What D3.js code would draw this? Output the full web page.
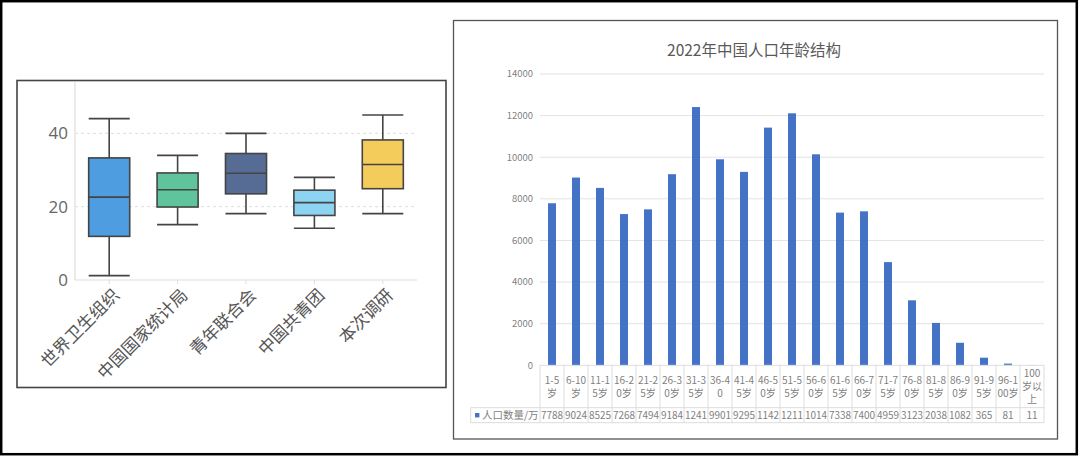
<!DOCTYPE html>
<html>
<head>
<meta charset="utf-8">
<script src="https://cdn.jsdelivr.net/npm/d3@7/dist/d3.min.js"></script>
<style>
  html, body { margin: 0; padding: 0; background: #fff; }
  svg { display: block; }
</style>
</head>
<body>
<svg id="chart" width="1080" height="457"></svg>
<script>
// box plot data (left panel)
const sources = ["世界卫生组织", "中国国家统计局", "青年联合会", "中国共青团", "本次调研"];
const boxMin = [1.2, 15.1, 18.1, 14.1, 18.1];
const boxQ1 = [11.9, 19.9, 23.5, 17.6, 24.9];
const boxMedian = [22.6, 24.6, 29.1, 21.1, 31.5];
const boxQ3 = [33.3, 29.2, 34.5, 24.5, 38.2];
const boxMax = [44.0, 34.0, 40.0, 28.0, 45.0];
const boxColors = ["#4d9de0", "#5fc49c", "#566c94", "#8dd4f2", "#f4cc5c"];
const boxTicks = [0, 20, 40];

// population data (right panel)
const ageLabels = ["1-5\n岁", "6-10\n岁", "11-1\n5岁", "16-2\n0岁", "21-2\n5岁", "26-3\n0岁", "31-3\n5岁",
  "36-4\n0", "41-4\n5岁", "46-5\n0岁", "51-5\n5岁", "56-6\n0岁", "61-6\n5岁", "66-7\n0岁", "71-7\n5岁",
  "76-8\n0岁", "81-8\n5岁", "86-9\n0岁", "91-9\n5岁", "96-1\n00岁", "100\n岁以\n上"];
const population = [7788, 9024, 8525, 7268, 7494, 9184, 12411, 9901, 9295, 11424, 12111, 10140,
  7338, 7400, 4959, 3123, 2038, 1082, 365, 81, 11];
const popTicks = [0, 2000, 4000, 6000, 8000, 10000, 12000, 14000];
const popTitle = "2022年中国人口年龄结构";
const seriesName = "人口数量/万";

const svg = d3.select("#chart");
const cjk = "'Noto Sans CJK SC', 'Open Sans', sans-serif";

// outer frame
svg.append("rect").attr("x", 1.2).attr("y", 1.2).attr("width", 1075.6).attr("height", 1453 - 1000)
  .attr("fill", "#fff").attr("stroke", "#000").attr("stroke-width", 2.5);

// ---------- left panel: box plot ----------
svg.append("rect").attr("x", 17).attr("y", 80.5).attr("width", 429).attr("height", 307)
  .attr("fill", "#fff").attr("stroke", "#444").attr("stroke-width", 1.6);

const bx = d3.scaleBand().domain(sources).range([75, 417]);
const by = d3.scaleLinear().domain([0, 54]).range([280, 82]);
const bw = bx.bandwidth() * 0.6;

const left = svg.append("g");

// grid
left.selectAll(".grid").data(boxTicks.filter(d => d > 0)).join("line")
  .attr("x1", 75).attr("x2", 417).attr("y1", d => by(d)).attr("y2", d => by(d))
  .attr("stroke", "#ddd").attr("stroke-dasharray", "3,3");

// axes lines
left.append("line").attr("x1", 75).attr("x2", 75).attr("y1", by(54)).attr("y2", by(0))
  .attr("stroke", "#ddd").attr("stroke-width", 1.2);
left.append("line").attr("x1", 75).attr("x2", 417).attr("y1", by(0)).attr("y2", by(0))
  .attr("stroke", "#ddd").attr("stroke-width", 1.2);

left.selectAll(".ytick").data(boxTicks).join("text")
  .attr("x", 68).attr("y", d => by(d)).attr("dy", "0.35em")
  .attr("text-anchor", "end").attr("font-family", "'Open Sans', sans-serif")
  .attr("font-size", 17).attr("fill", "#666").text(d => d);

left.selectAll(".xtick").data(sources).join("line")
  .attr("x1", d => bx(d) + bx.bandwidth() / 2).attr("x2", d => bx(d) + bx.bandwidth() / 2)
  .attr("y1", by(0)).attr("y2", by(0) + 4).attr("stroke", "#ddd");

left.selectAll(".xlab").data(sources).join("text")
  .attr("transform", d => `translate(${bx(d) + bx.bandwidth() / 2 + 7},${by(0) + 12}) rotate(-45)`)
  .attr("text-anchor", "end").attr("dy", "0.35em")
  .attr("font-family", cjk).attr("font-size", 17).attr("fill", "#555").text(d => d);

const boxes = left.selectAll(".box").data(sources).join("g")
  .attr("transform", d => `translate(${bx(d) + bx.bandwidth() / 2},0)`);
boxes.append("line").attr("y1", (d, i) => by(boxMin[i])).attr("y2", (d, i) => by(boxMax[i]))
  .attr("stroke", "#444").attr("stroke-width", 1.6);
boxes.append("line").attr("x1", -bw / 2).attr("x2", bw / 2)
  .attr("y1", (d, i) => by(boxMin[i])).attr("y2", (d, i) => by(boxMin[i]))
  .attr("stroke", "#444").attr("stroke-width", 1.6);
boxes.append("line").attr("x1", -bw / 2).attr("x2", bw / 2)
  .attr("y1", (d, i) => by(boxMax[i])).attr("y2", (d, i) => by(boxMax[i]))
  .attr("stroke", "#444").attr("stroke-width", 1.6);
boxes.append("rect").attr("x", -bw / 2).attr("width", bw)
  .attr("y", (d, i) => by(boxQ3[i])).attr("height", (d, i) => by(boxQ1[i]) - by(boxQ3[i]))
  .attr("fill", (d, i) => boxColors[i]).attr("stroke", "#444").attr("stroke-width", 1.6);
boxes.append("line").attr("x1", -bw / 2).attr("x2", bw / 2)
  .attr("y1", (d, i) => by(boxMedian[i])).attr("y2", (d, i) => by(boxMedian[i]))
  .attr("stroke", "#444").attr("stroke-width", 1.6);

// ---------- right panel: bar chart + data table ----------
svg.append("rect").attr("x", 453.5).attr("y", 20.5).attr("width", 604).attr("height", 418.5)
  .attr("fill", "#fff").attr("stroke", "#555").attr("stroke-width", 1.3);

const px = d3.scaleBand().domain(ageLabels).range([540, 1044]);
const py = d3.scaleLinear().domain([0, 14000]).range([365.3, 74]);
const right = svg.append("g");
const grey = "#7f7f7f";

right.append("text").attr("x", 754).attr("y", 56).attr("text-anchor", "middle")
  .attr("font-family", cjk).attr("font-size", 15.5).attr("fill", "#595959").text(popTitle);

right.selectAll(".grid").data(popTicks.filter(d => d > 0)).join("line")
  .attr("x1", 540).attr("x2", 1044).attr("y1", d => py(d)).attr("y2", d => py(d))
  .attr("stroke", "#e3e3e3");

right.selectAll(".ytick").data(popTicks).join("text")
  .attr("x", 533).attr("y", d => py(d)).attr("dy", "0.35em").attr("text-anchor", "end")
  .attr("font-family", cjk).attr("font-size", 9.5).attr("fill", grey).text(d => d);

right.selectAll(".bar").data(ageLabels).join("rect")
  .attr("x", d => px(d) + px.bandwidth() / 3).attr("width", px.bandwidth() / 3)
  .attr("y", (d, i) => py(population[i])).attr("height", (d, i) => py(0) - py(population[i]))
  .attr("fill", "#4472c4");

// table
const row1 = py(0), row2 = 407.7, row3 = 422.7, legX = 470.7;
const tbl = right.append("g").attr("stroke", "#dcdcdc").attr("stroke-width", 1);
tbl.append("line").attr("x1", 540).attr("x2", 1044).attr("y1", row1).attr("y2", row1);
tbl.append("line").attr("x1", legX).attr("x2", 1044).attr("y1", row2).attr("y2", row2);
tbl.append("line").attr("x1", legX).attr("x2", 1044).attr("y1", row3).attr("y2", row3);
tbl.append("line").attr("x1", legX).attr("x2", legX).attr("y1", row2).attr("y2", row3);
tbl.selectAll(".vl").data(ageLabels.concat(["end"])).join("line")
  .attr("x1", (d, i) => 540 + i * px.step()).attr("x2", (d, i) => 540 + i * px.step())
  .attr("y1", row1).attr("y2", row3);

right.selectAll(".cat").data(ageLabels).join("text")
  .attr("font-family", cjk).attr("font-size", 10).attr("fill", grey).attr("text-anchor", "middle")
  .each(function (d) {
    const lines = d.split("\n");
    const t = d3.select(this);
    const lh = 13;
    const y0 = (row1 + row2) / 2 - (lines.length - 1) * lh / 2;
    lines.forEach((s, k) => {
      t.append("tspan").attr("x", px(d) + px.bandwidth() / 2).attr("y", y0 + k * lh)
        .attr("dy", "0.35em").text(s);
    });
  });

// values are clipped to 4 characters by the cell width in the original
right.selectAll(".val").data(ageLabels).join("text")
  .attr("x", d => px(d) + px.bandwidth() / 2).attr("y", (row2 + row3) / 2).attr("dy", "0.35em")
  .attr("text-anchor", "middle").attr("font-family", cjk).attr("font-size", 10).attr("fill", grey)
  .text((d, i) => String(population[i]).slice(0, 4));

right.append("rect").attr("x", 475).attr("y", (row2 + row3) / 2 - 2.2).attr("width", 4.4).attr("height", 4.4)
  .attr("fill", "#4472c4");
right.append("text").attr("x", 482).attr("y", (row2 + row3) / 2).attr("dy", "0.35em")
  .attr("font-family", cjk).attr("font-size", 10.5).attr("fill", grey).text(seriesName);
</script>
</body>
</html>
